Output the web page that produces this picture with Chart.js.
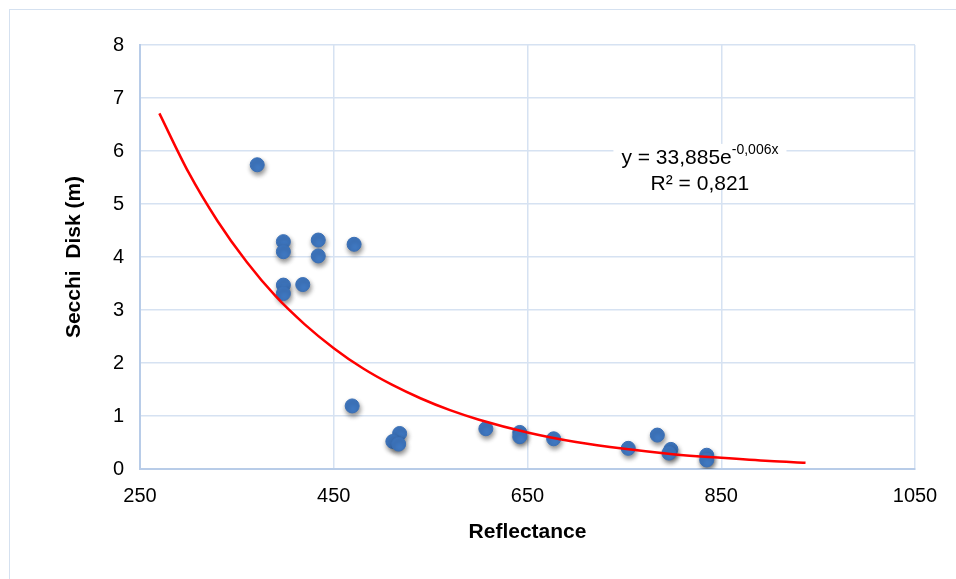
<!DOCTYPE html>
<html>
<head>
<meta charset="utf-8">
<script src="https://cdn.jsdelivr.net/npm/chart.js@4"></script>
<style>
  body { margin: 0; background: #fff; }
  #wrap { position: absolute; left: 0; top: 0; width: 956px; height: 579px; }
  #frame { position: absolute; left: 9px; top: 9px; width: 960px; height: 600px; border: 1px solid #d5e1f0; }
</style>
</head>
<body>
<div id="frame"></div>
<div id="wrap"><canvas id="chart" width="956" height="579"></canvas></div>
<script>
// measured points (reflectance, secchi depth)
var reflectance = [371, 398, 398, 434, 434, 471, 398, 398, 418, 469, 518, 511, 517, 607, 642, 642, 677, 754, 784, 798, 796, 835, 835];
var secchi      = [5.74, 4.29, 4.10, 4.32, 4.02, 4.24, 3.47, 3.31, 3.48, 1.19, 0.67, 0.52, 0.47, 0.76, 0.69, 0.61, 0.57, 0.39, 0.64, 0.37, 0.30, 0.26, 0.17];
// exponential trendline
var trendX = [270, 300, 330, 360, 390, 420, 450, 480, 510, 540, 570, 600, 650, 700, 750, 800, 850, 900, 937];
var trendY = [6.71, 5.60, 4.68, 3.91, 3.26, 2.73, 2.28, 1.90, 1.59, 1.33, 1.11, 0.93, 0.69, 0.51, 0.38, 0.28, 0.21, 0.15, 0.12];
var xTicks = [250, 450, 650, 850, 1050];
var eqText = 'y = 33,885e';
var eqExp = '-0,006x';
var r2Text = 'R² = 0,821';

var pts = reflectance.map(function(x, i) { return {x: x, y: secchi[i]}; });
var trend = trendX.map(function(x, i) { return {x: x, y: trendY[i]}; });
var fam = '"Liberation Sans", Arial, sans-serif';

var shadowPlugin = {
  id: 'shadow',
  beforeDatasetDraw: function(chart, args) {
    if (args.index === 1) {
      var c = chart.ctx;
      c.save();
      c.shadowColor = 'rgba(0,0,0,0.45)';
      c.shadowBlur = 5;
      c.shadowOffsetX = 1;
      c.shadowOffsetY = 3;
    }
  },
  afterDatasetDraw: function(chart, args) {
    if (args.index === 1) chart.ctx.restore();
  }
};

var labelPlugin = {
  id: 'eqlabel',
  afterDraw: function(chart) {
    var c = chart.ctx;
    var xs = chart.scales.x, ys = chart.scales.y;
    var cx = xs.getPixelForValue(828);
    var y1 = ys.getPixelForValue(5.87);
    var y2 = ys.getPixelForValue(5.38);
    c.save();
    c.font = '21px ' + fam;
    var w1 = c.measureText(eqText).width;
    c.font = '14px ' + fam;
    var w2 = c.measureText(eqExp).width;
    var total = w1 + w2;
    c.fillStyle = '#ffffff';
    c.fillRect(cx - total / 2 - 8, y1 - 14, total + 16, 44);
    c.fillStyle = '#000000';
    c.textBaseline = 'middle';
    c.textAlign = 'left';
    c.font = '21px ' + fam;
    c.fillText(eqText, cx - total / 2, y1);
    c.font = '14px ' + fam;
    c.fillText(eqExp, cx - total / 2 + w1, y1 - 8);
    c.font = '21px ' + fam;
    c.textAlign = 'center';
    c.fillText(r2Text, cx, y2);
    c.restore();
  }
};

new Chart('chart', {
  type: 'scatter',
  data: {
    datasets: [
      {
        type: 'line',
        data: trend,
        borderColor: '#ff0000',
        borderWidth: 2.5,
        pointRadius: 0,
        cubicInterpolationMode: 'monotone',
        fill: false
      },
      {
        data: pts,
        backgroundColor: '#3f78c2',
        borderColor: '#3a6fb5',
        borderWidth: 1,
        pointRadius: 7
      }
    ]
  },
  options: {
    responsive: false,
    animation: false,
    layout: { padding: { left: 58, top: 45, right: 41, bottom: 30 } },
    plugins: { legend: { display: false }, tooltip: { enabled: false } },
    scales: {
      x: {
        type: 'linear',
        min: 250, max: 1050,
        afterBuildTicks: function(s) { s.ticks = xTicks.map(function(v) { return {value: v}; }); },
        afterFit: function(s) { s.height = 80; },
        grid: { color: '#d6e2f2', lineWidth: 1.5, drawTicks: false },
        border: { color: '#b8cce8', width: 2 },
        ticks: { padding: 15, color: '#000', font: { size: 20, family: fam }, callback: function(v) { return String(v); } },
        title: { display: true, text: 'Reflectance', color: '#000', font: { size: 21, weight: 'bold', family: fam } }
      },
      y: {
        min: 0, max: 8,
        ticks: { stepSize: 1, padding: 16, color: '#000', font: { size: 20, family: fam } },
        afterFit: function(s) { s.width = 82; },
        grid: { color: '#d6e2f2', lineWidth: 1.5, drawTicks: false },
        border: { color: '#b8cce8', width: 2 },
        title: { display: true, text: 'Secchi  Disk (m)', color: '#000', font: { size: 21, weight: 'bold', family: fam } }
      }
    }
  },
  plugins: [shadowPlugin, labelPlugin]
});
</script>
</body>
</html>
